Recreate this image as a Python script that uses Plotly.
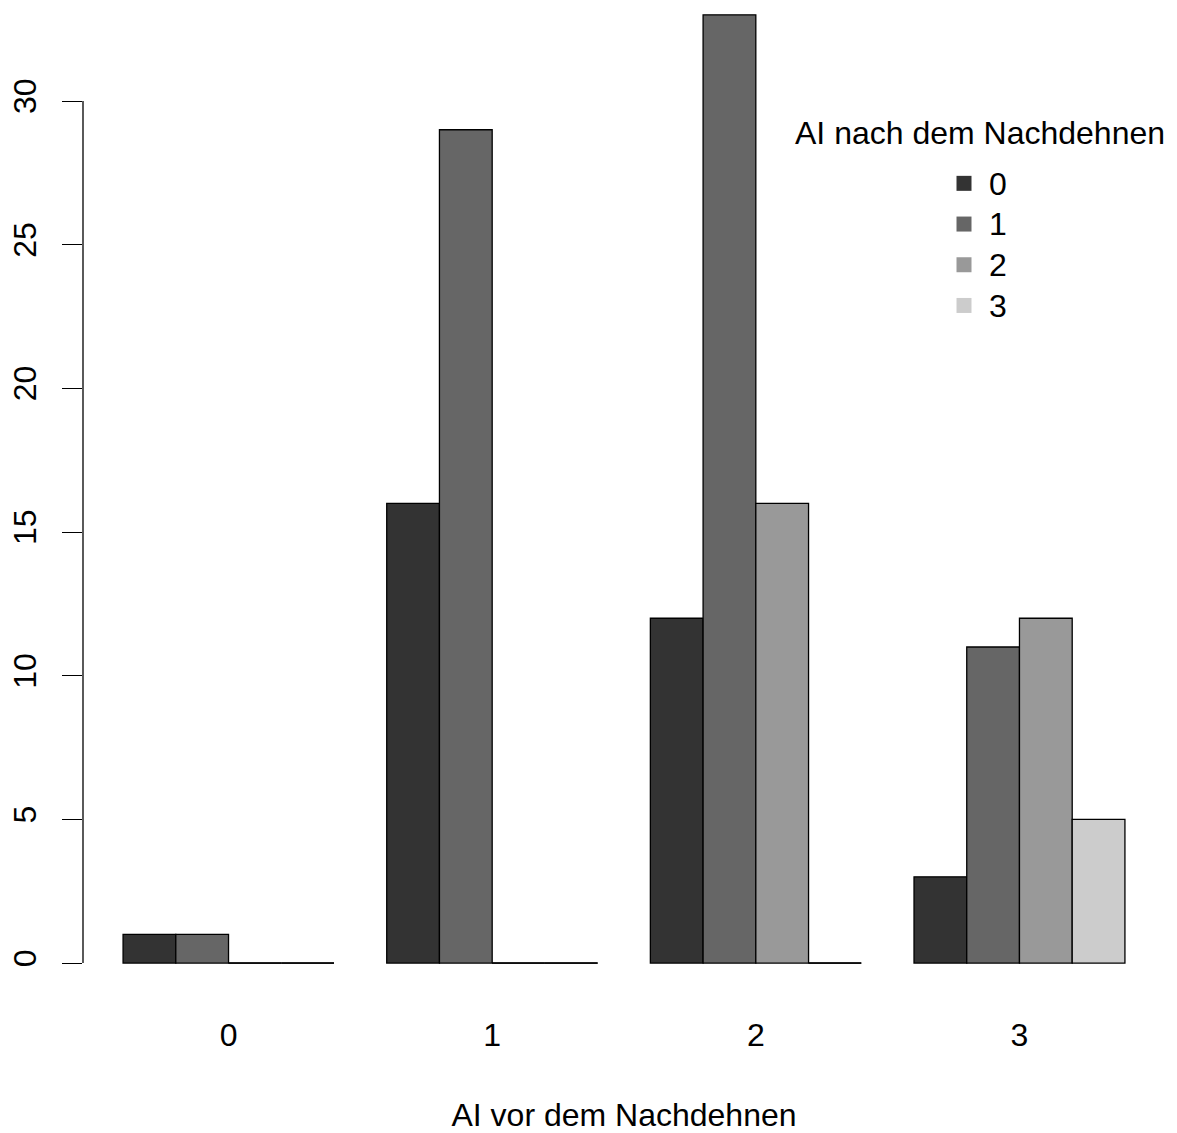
import plotly.graph_objects as go

# Data
groups = ["0", "1", "2", "3"]            # AI vor dem Nachdehnen
series_names = ["0", "1", "2", "3"]      # AI nach dem Nachdehnen
counts_0 = [1, 16, 12, 3]
counts_1 = [1, 29, 33, 11]
counts_2 = [0, 0, 16, 12]
counts_3 = [0, 0, 0, 5]
series_values = [counts_0, counts_1, counts_2, counts_3]
colors = ["#333333", "#666666", "#999999", "#CCCCCC"]
y_ticks = [0, 5, 10, 15, 20, 25, 30]

W, H = 1177, 1133
L, R, T, B = 83, 12, 0, 132
FONT = "Liberation Sans, Arial, sans-serif"
FS = 32

fig = go.Figure()
for name, vals, col in zip(series_names, series_values, colors):
    fig.add_trace(go.Bar(
        x=groups, y=vals, name=name, showlegend=False,
        marker=dict(color=col, line=dict(color="black", width=1.3)),
    ))
    # legend-only entry (no border, like R's filled squares)
    fig.add_trace(go.Scatter(
        x=[None], y=[None], mode="markers",
        name=f"<span style='font-size:{FS}px'>{name}</span>",
        marker=dict(symbol="square", size=15, color=col, line=dict(width=0)),
    ))

# zero-height bars still show their border as a line at 0 (as in R)
nser = len(series_values)
width_per = 0.8 / nser
shapes = []
for si, vals in enumerate(series_values):
    for gi, v in enumerate(vals):
        if v == 0:
            x0 = gi - 0.4 + si * width_per
            shapes.append(dict(type="line", xref="x", yref="y",
                               x0=x0, x1=x0 + width_per, y0=0, y1=0,
                               line=dict(color="black", width=1.5)))
# y axis line only spanning the tick range (R style)
shapes.append(dict(type="line", xref="paper", yref="y", x0=0, x1=0,
                   y0=min(y_ticks), y1=max(y_ticks),
                   line=dict(color="black", width=1.3)))

plot_w = W - L - R
def px_to_paper_x(px):
    return (px - L) / plot_w
plot_h = H - T - B
def px_to_paper_y(py):
    return 1 - (py - T) / plot_h

fig.update_layout(
    width=W, height=H,
    margin=dict(l=L, r=R, t=T, b=B, pad=0),
    paper_bgcolor="white", plot_bgcolor="white",
    barmode="group", bargap=0.2, bargroupgap=0,
    font=dict(family=FONT, size=FS, color="black"),
    shapes=shapes,
    xaxis=dict(
        type="category", range=[-0.552, 3.552],
        showline=False, showgrid=False, zeroline=False, ticks="",
        tickfont=dict(size=FS), ticklabelstandoff=12,
        title=dict(text="AI vor dem Nachdehnen", font=dict(size=FS), standoff=55),
    ),
    yaxis=dict(
        range=[-1.32, 33.515], autorange=False,
        tickvals=y_ticks, ticktext=[str(t) for t in y_ticks],
        ticks="outside", ticklen=20, tickwidth=1.3, tickcolor="black",
        tickangle=-90, showline=False, showgrid=False, zeroline=False,
        tickfont=dict(size=FS), ticklabelstandoff=13,
    ),
    legend=dict(
        x=px_to_paper_x(939), y=px_to_paper_y(158),
        xanchor="left", yanchor="top",
        bgcolor="rgba(0,0,0,0)", borderwidth=0,
        font=dict(size=29), itemwidth=40,
    ),
    annotations=[dict(
        text="AI nach dem Nachdehnen", xref="paper", yref="paper",
        x=px_to_paper_x(980), y=px_to_paper_y(133),
        xanchor="center", yanchor="middle", showarrow=False,
        font=dict(size=FS),
    )],
)

fig.write_html("out.html", config={"displayModeBar": False},
               post_script="document.body.style.margin='0';document.body.style.padding='0';")
